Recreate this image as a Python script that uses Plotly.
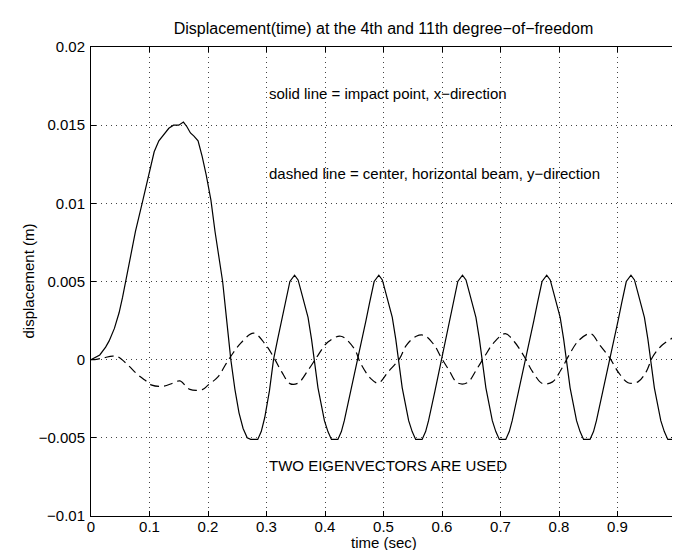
import plotly.graph_objects as go

# --- data ---
t_solid = [0.000, 0.006, 0.015, 0.025, 0.031, 0.040, 0.048, 0.054, 0.060, 0.068,
           0.076, 0.088, 0.100, 0.108, 0.116, 0.125, 0.133, 0.141, 0.150, 0.158,
           0.164, 0.170, 0.176, 0.183, 0.190, 0.197, 0.205, 0.212, 0.219, 0.225,
           0.232, 0.239, 0.246, 0.253, 0.260, 0.267, 0.273, 0.285, 0.291, 0.297,
           0.305, 0.312,
           0.319, 0.326, 0.332, 0.340, 0.348, 0.354, 0.359, 0.365, 0.371, 0.377,
           0.382, 0.388, 0.399, 0.405, 0.411, 0.422, 0.428, 0.433, 0.444, 0.456,
           0.463, 0.470, 0.476, 0.484, 0.492, 0.498, 0.503, 0.509, 0.515, 0.521,
           0.526, 0.532, 0.543, 0.549, 0.555, 0.566, 0.572, 0.577, 0.588, 0.599,
           0.606, 0.613, 0.619, 0.627, 0.635, 0.641, 0.646, 0.652, 0.658, 0.664,
           0.669, 0.675, 0.686, 0.692, 0.698, 0.709, 0.715, 0.720, 0.731, 0.743,
           0.750, 0.757, 0.763, 0.771, 0.779, 0.785, 0.790, 0.796, 0.802, 0.808,
           0.813, 0.819, 0.830, 0.836, 0.842, 0.853, 0.859, 0.864, 0.875, 0.887,
           0.894, 0.901, 0.907, 0.915, 0.923, 0.929, 0.934, 0.940, 0.946, 0.952,
           0.957, 0.963, 0.974, 0.980, 0.986, 0.997, 1.000]
y_solid = [0.0000, 0.0001, 0.0003, 0.0008, 0.0012, 0.0020, 0.0030, 0.0040, 0.0051, 0.0066,
           0.0082, 0.0101, 0.0121, 0.0133, 0.0140, 0.0144, 0.0148, 0.0150, 0.0150, 0.0152,
           0.0149, 0.0145, 0.0143, 0.0140, 0.0130, 0.0118, 0.0102, 0.0082, 0.0063, 0.0050,
           0.0025, 0.0000, -0.0019, -0.0034, -0.0044, -0.0050, -0.0051, -0.0051, -0.0046, -0.0037,
           -0.0020, 0.0000,
           0.0013, 0.0025, 0.0036, 0.0050, 0.0054, 0.0051, 0.0044, 0.0036, 0.0027, 0.0013,
           0.0000, -0.0018, -0.0039, -0.0046, -0.0051, -0.0051, -0.0046, -0.0039, -0.0020, 0.0000,
           0.0013, 0.0025, 0.0036, 0.0050, 0.0054, 0.0051, 0.0044, 0.0036, 0.0027, 0.0013,
           0.0000, -0.0018, -0.0039, -0.0046, -0.0051, -0.0051, -0.0046, -0.0039, -0.0020, 0.0000,
           0.0013, 0.0025, 0.0036, 0.0050, 0.0054, 0.0051, 0.0044, 0.0036, 0.0027, 0.0013,
           0.0000, -0.0018, -0.0039, -0.0046, -0.0051, -0.0051, -0.0046, -0.0039, -0.0020, 0.0000,
           0.0013, 0.0025, 0.0036, 0.0050, 0.0054, 0.0051, 0.0044, 0.0036, 0.0027, 0.0013,
           0.0000, -0.0018, -0.0039, -0.0046, -0.0051, -0.0051, -0.0046, -0.0039, -0.0020, 0.0000,
           0.0013, 0.0025, 0.0036, 0.0050, 0.0054, 0.0051, 0.0044, 0.0036, 0.0027, 0.0013,
           0.0000, -0.0018, -0.0039, -0.0046, -0.0051, -0.0051, -0.0051]

t_dashed = [0.000, 0.006, 0.020, 0.037, 0.045, 0.062, 0.079, 0.092, 0.104, 0.124,
            0.140, 0.152, 0.169, 0.191, 0.200, 0.217, 0.231, 0.242, 0.256, 0.278,
            0.298, 0.312, 0.326, 0.340, 0.354, 0.371, 0.388, 0.405, 0.427, 0.450,
            0.461, 0.478, 0.491, 0.508, 0.528, 0.539, 0.556, 0.570, 0.587, 0.598,
            0.612, 0.626, 0.643, 0.660, 0.674, 0.688, 0.708, 0.724, 0.741, 0.755,
            0.772, 0.789, 0.803, 0.817, 0.834, 0.854, 0.870, 0.887, 0.901, 0.918,
            0.935, 0.949, 0.960, 0.976, 0.996, 1.000]
y_dashed = [0.0000, 0.0000, 0.0001, 0.00023, 0.0002, -0.0003, -0.00093, -0.0013, -0.00163, -0.0017,
            -0.0015, -0.00136, -0.0019, -0.0019, -0.00163, -0.0011, -0.00025, 0.00038, 0.00106, 0.0017,
            0.00098, 0.00017, -0.00078, -0.00153, -0.0015, -0.00068, 0.00028, 0.00113, 0.0015, 0.0007,
            -0.00025, -0.0012, -0.0015, -0.00078, 0.0001, 0.00092, 0.0015, 0.00155, 0.00092, 0.00017,
            -0.00068, -0.00148, -0.00148, -0.00057, 0.00028, 0.00106, 0.00166, 0.00113, 0.00017, -0.00078,
            -0.00153, -0.00142, -0.00068, 0.00028, 0.00124, 0.00166, 0.00092, 0.0001, -0.00078, -0.00148,
            -0.00142, -0.00078, 0.00017, 0.00092, 0.00145, 0.0016]

x_ticks = [0, 0.1, 0.2, 0.3, 0.4, 0.5, 0.6, 0.7, 0.8, 0.9, 1]
x_tick_labels = ["0", "0.1", "0.2", "0.3", "0.4", "0.5", "0.6", "0.7", "0.8", "0.9", "1"]
y_ticks = [-0.01, -0.005, 0, 0.005, 0.01, 0.015, 0.02]
y_tick_labels = ["\u22120.01", "\u22120.005", "0", "0.005", "0.01", "0.015", "0.02"]

notes = [
    (0.30, 0.0170, "solid line = impact point, x\u2212direction"),
    (0.30, 0.0119, "dashed line = center, horizontal beam, y\u2212direction"),
    (0.30, -0.0068, "TWO EIGENVECTORS ARE USED"),
]

FONT = "Liberation Sans, Arial, Helvetica, sans-serif"
TXT = dict(family=FONT, size=15, color="black")

fig = go.Figure()
fig.add_trace(go.Scatter(x=t_solid, y=y_solid, mode="lines",
                         line=dict(color="black", width=1.2), showlegend=False))
fig.add_trace(go.Scatter(x=t_dashed, y=y_dashed, mode="lines",
                         line=dict(color="black", width=1.2, dash="9px,5px", shape="spline"),
                         showlegend=False))

for x, y, s in notes:
    fig.add_annotation(x=x, y=y, text=s, showarrow=False, xanchor="left", yanchor="middle",
                       font=TXT)

# axis titles as annotations for precise placement
fig.add_annotation(xref="paper", yref="paper", x=0.5, y=0, yanchor="middle", yshift=-26,
                   borderpad=0, text="time (sec)", showarrow=False, font=TXT)
fig.add_annotation(xref="paper", yref="paper", x=0, y=0.5, xanchor="center", xshift=-63,
                   text="displacement (m)", textangle=-90, showarrow=False, font=TXT)

axis_common = dict(showline=True, linecolor="black", linewidth=1, mirror="ticks",
                   ticks="inside", ticklen=5, tickcolor="black",
                   showgrid=True, gridcolor="#444", griddash="1px,4px", gridwidth=1,
                   zeroline=False, tickfont=TXT)

fig.update_xaxes(range=[0, 1], tickvals=x_ticks, ticktext=x_tick_labels,
                 ticklabeloverflow="allow", ticklabelstandoff=-3, **axis_common)
fig.update_yaxes(range=[-0.01, 0.02], tickvals=y_ticks, ticktext=y_tick_labels,
                 ticklabelstandoff=2, **axis_common)

fig.update_layout(
    width=680, height=550,
    margin=dict(l=83, r=8, t=39, b=42),
    paper_bgcolor="white", plot_bgcolor="white",
    title=dict(text="Displacement(time) at the 4th and 11th degree\u2212of\u2212freedom",
               x=0.5, xref="paper", xanchor="center", y=1 - 20 / 550, yref="container",
               yanchor="middle", font=dict(family=FONT, size=16, color="black")),
)

fig.write_html("out.html")
